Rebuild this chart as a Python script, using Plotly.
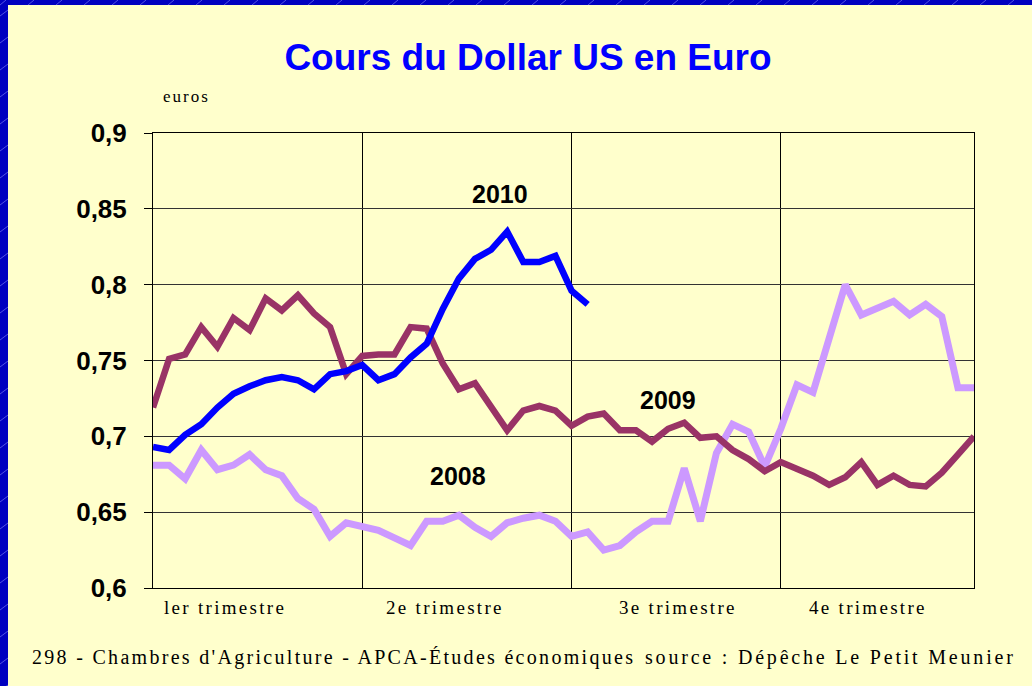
import plotly.graph_objects as go

# Weekly USD/EUR rate (euros per dollar), week index 0..51
semaines = list(range(52))

cours_2008 = [0.681, 0.681, 0.672, 0.691, 0.678, 0.681, 0.688, 0.678, 0.674, 0.659,
              0.652, 0.634, 0.643, 0.640, 0.638, 0.633, 0.628, 0.644, 0.644, 0.648,
              0.640, 0.634, 0.643, 0.646, 0.648, 0.644, 0.634, 0.637, 0.625, 0.628,
              0.637, 0.644, 0.644, 0.679, 0.644, 0.689, 0.708, 0.703, 0.680, 0.705,
              0.734, 0.729, 0.764, 0.800, 0.780, 0.784, 0.789, 0.780, 0.787, 0.779,
              0.732, 0.732]

cours_2009 = [0.719, 0.751, 0.754, 0.772, 0.759, 0.778, 0.770, 0.791, 0.783, 0.793,
              0.781, 0.772, 0.741, 0.753, 0.754, 0.754, 0.772, 0.771, 0.748, 0.731,
              0.735, 0.719, 0.704, 0.717, 0.720, 0.717, 0.707, 0.713, 0.715, 0.704,
              0.704, 0.6965, 0.705, 0.709, 0.699, 0.700, 0.691, 0.685, 0.677, 0.683,
              0.679, 0.674, 0.668, 0.673, 0.683, 0.668, 0.674, 0.668, 0.667, 0.676,
              0.688, 0.700]

cours_2010 = [0.693, 0.691, 0.701, 0.708, 0.719, 0.728, 0.733, 0.737, 0.739, 0.737,
              0.731, 0.741, 0.743, 0.747, 0.737, 0.741, 0.752, 0.761, 0.784, 0.804,
              0.817, 0.823, 0.835, 0.815, 0.815, 0.819, 0.796, 0.787]

y_ticks = [0.6, 0.65, 0.7, 0.75, 0.8, 0.85, 0.9]
y_tick_labels = ["0,6", "0,65", "0,7", "0,75", "0,8", "0,85", "0,9"]
trimestres = ["ler trimestre", "2e trimestre", "3e trimestre", "4e trimestre"]
debut_trimestres = [0, 13, 26, 39, 51]

W, H = 1032, 686
L, R, T, B = 153, 974, 133, 588


def px_x(p):
    return (p - L) / (R - L)


def px_y(p):
    return (B - p) / (B - T)


BG = "#FFFFCC"
BORDER = "#0000C0"
SANS = "Liberation Sans, Arial, sans-serif"
SERIF = "Liberation Serif, Times New Roman, serif"


def spaced(text, sp):
    return f'<span style="letter-spacing:{sp}px">{text}</span>'


fig = go.Figure()
fig.add_trace(go.Scatter(x=semaines, y=cours_2008, mode="lines",
                         line=dict(color="#CC99FF", width=7), name="2008"))
fig.add_trace(go.Scatter(x=semaines, y=cours_2009, mode="lines",
                         line=dict(color="#993366", width=6.5), name="2009"))
fig.add_trace(go.Scatter(x=semaines[:len(cours_2010)], y=cours_2010, mode="lines",
                         line=dict(color="#0000FF", width=6.5), name="2010"))

# blue frame strips (left and top) with light diagonal hatching
shapes = [
    dict(type="rect", xref="paper", yref="paper", x0=px_x(0), x1=px_x(8),
         y0=px_y(686), y1=px_y(0), fillcolor=BORDER, line_width=0, layer="above"),
    dict(type="rect", xref="paper", yref="paper", x0=px_x(0), x1=px_x(1032),
         y0=px_y(5), y1=px_y(0), fillcolor=BORDER, line_width=0, layer="above"),
]
hatch = []
for k in range(0, 1040, 28):
    hatch.append(f"M{px_x(k)},{px_y(5)} L{px_x(k + 6)},{px_y(0)}")
for k in range(10, 690, 27):
    hatch.append(f"M{px_x(0)},{px_y(k + 6)} L{px_x(8)},{px_y(k)}")
shapes.append(dict(type="path", xref="paper", yref="paper", path=" ".join(hatch),
                   line=dict(color="rgba(150,150,255,0.55)", width=1), layer="above"))

year_font = dict(family=SANS, size=25, color="black", weight="bold")
annotations = [
    dict(text=spaced("euros", 2), x=px_x(186), y=px_y(96), xref="paper", yref="paper",
         showarrow=False, font=dict(family=SERIF, size=17, color="black"),
         xanchor="center", yanchor="middle"),
    dict(text="2010", x=21.55, y=0.860, showarrow=False, font=year_font),
    dict(text="2009", x=32.0, y=0.724, showarrow=False, font=year_font),
    dict(text="2008", x=18.94, y=0.674, showarrow=False, font=year_font),
    dict(text=spaced("298 - Chambres d'Agriculture - APCA-Études économiques", 2.3),
         x=px_x(30), y=px_y(657), xref="paper", yref="paper", showarrow=False,
         font=dict(family=SERIF, size=20, color="black"), xanchor="left", yanchor="middle"),
    dict(text=spaced("source : Dépêche Le Petit Meunier", 2.8),
         x=px_x(1018), y=px_y(657), xref="paper", yref="paper", showarrow=False,
         font=dict(family=SERIF, size=20, color="black"), xanchor="right", yanchor="middle"),
]
for lab, cx in zip(trimestres, [225, 445, 678, 868]):
    annotations.append(dict(text=spaced(lab, 2.3), x=px_x(cx), y=px_y(607),
                            xref="paper", yref="paper", showarrow=False,
                            font=dict(family=SERIF, size=19, color="black"),
                            xanchor="center", yanchor="middle"))

fig.update_layout(
    width=W, height=H,
    margin=dict(l=L, r=W - R, t=T, b=H - B, pad=0),
    paper_bgcolor=BG, plot_bgcolor=BG,
    showlegend=False,
    title=dict(text="Cours du Dollar US en Euro", x=528 / W, xanchor="center",
               y=1 - 57 / H, yanchor="middle", xref="container", yref="container",
               font=dict(family=SANS, size=37, color="#0000FF", weight="bold")),
    xaxis=dict(range=[0, 51], tickmode="array", tickvals=debut_trimestres,
               showticklabels=False, ticks="", showgrid=True, gridcolor="black",
               gridwidth=1, zeroline=False, showline=True, linecolor="black",
               linewidth=1, mirror=True, fixedrange=True),
    yaxis=dict(range=[0.6, 0.9], tickmode="array", tickvals=y_ticks,
               ticktext=y_tick_labels, ticks="outside", ticklen=8, tickcolor="black",
               ticklabelstandoff=12, showgrid=True, gridcolor="#333333", gridwidth=1,
               zeroline=False, showline=True, linecolor="black", linewidth=1,
               mirror=True, fixedrange=True,
               tickfont=dict(family=SANS, size=26, color="black", weight="bold")),
    shapes=shapes,
    annotations=annotations,
)

fig.write_html("out.html")
